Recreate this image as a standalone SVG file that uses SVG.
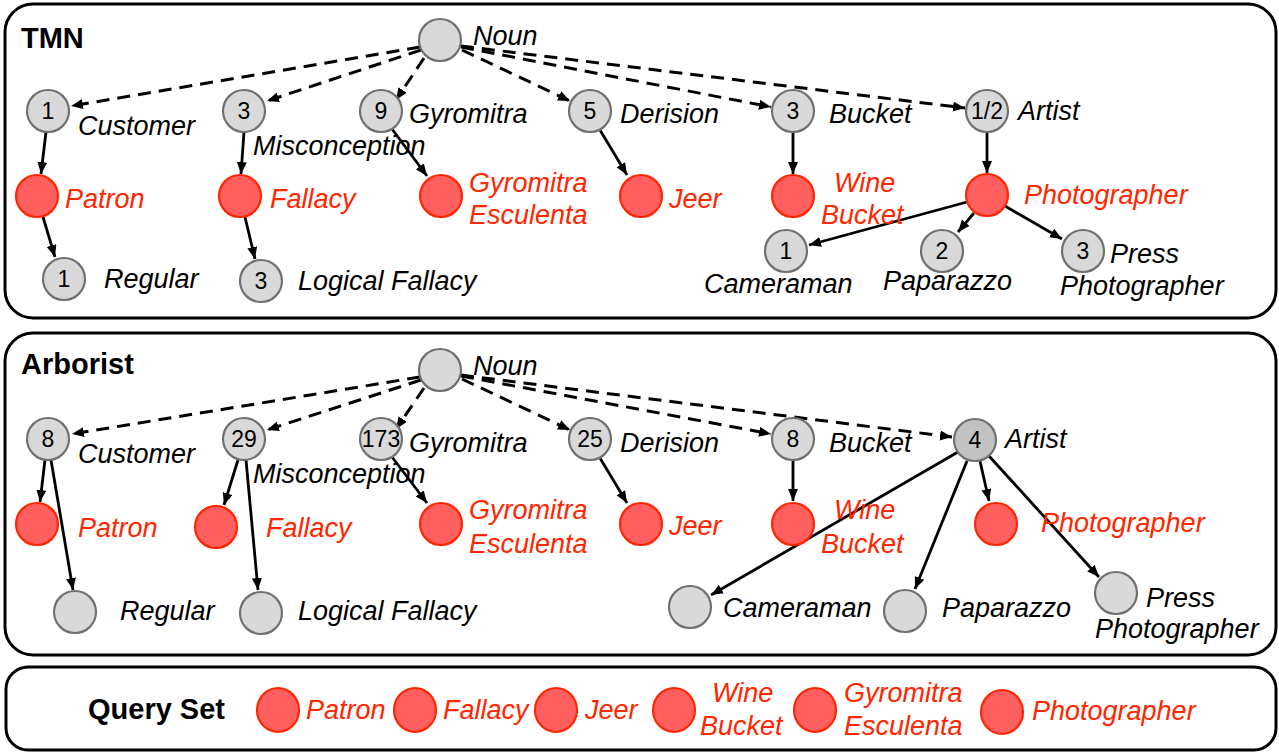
<svg xmlns="http://www.w3.org/2000/svg" width="1279" height="753" viewBox="0 0 1279 753">
<defs>
<marker id="ah" markerUnits="userSpaceOnUse" markerWidth="13" markerHeight="11" refX="12" refY="5" orient="auto">
<path d="M0,0 L12,5 L0,10 z" fill="#000"/>
</marker>
<style>
.box{fill:#fff;stroke:#000;stroke-width:3}
.g{fill:#d9d9d9;stroke:#707070;stroke-width:2.2}
.g4{fill:#c2c2c2;stroke:#707070;stroke-width:2.2}
.r{fill:#ff5f5f;stroke:#ff2600;stroke-width:2.2}
.num{font-family:"Liberation Sans",Arial,sans-serif;font-size:23px;fill:#000;text-anchor:middle}
.lb{font-family:"Liberation Sans",Arial,sans-serif;font-size:27px;font-style:italic;fill:#000}
.lr{font-family:"Liberation Sans",Arial,sans-serif;font-size:27px;font-style:italic;fill:#ff2600}
.tt{font-family:"Liberation Sans",Arial,sans-serif;font-size:29px;font-weight:bold;fill:#000}
.d{fill:none;stroke:#000;stroke-width:3;stroke-dasharray:13 8;marker-end:url(#ah)}
.s{fill:none;stroke:#000;stroke-width:2.8;marker-end:url(#ah)}
</style>
</defs>
<rect fill="#fff" x="0" y="0" width="1279" height="753"/>
<g id="panels">
<rect class="box" x="5" y="4" width="1271" height="314" rx="28"/>
<rect class="box" x="5" y="333" width="1271" height="322" rx="28"/>
<rect class="box" x="6" y="667" width="1270" height="83" rx="22"/>
<text class="tt" x="21" y="48">TMN</text>
<text class="tt" x="21" y="374">Arborist</text>
<text class="tt" x="88" y="719">Query Set</text>
</g>
<g id="connectors">
<line class="d" x1="420" y1="47" x2="71" y2="106"/>
<line class="d" x1="421" y1="50" x2="267" y2="101"/>
<line class="d" x1="424" y1="58" x2="396" y2="100"/>
<line class="d" x1="462" y1="50" x2="570" y2="101"/>
<line class="d" x1="461" y1="47" x2="771" y2="107"/>
<line class="d" x1="461" y1="46" x2="965" y2="108"/>
<line class="s" x1="46" y1="132" x2="41" y2="174"/>
<line class="s" x1="43" y1="217" x2="55" y2="257"/>
<line class="s" x1="244" y1="132" x2="241" y2="174"/>
<line class="s" x1="245" y1="217" x2="255" y2="259"/>
<line class="s" x1="392" y1="129" x2="427" y2="176"/>
<line class="s" x1="600" y1="130" x2="627" y2="175"/>
<line class="s" x1="793" y1="132" x2="793" y2="174"/>
<line class="s" x1="987" y1="132" x2="987" y2="173"/>
<line class="s" x1="967" y1="202" x2="809" y2="245"/>
<line class="s" x1="974" y1="213" x2="958" y2="232"/>
<line class="s" x1="1005" y1="206" x2="1062" y2="239"/>
<line class="d" x1="420" y1="377" x2="72" y2="434"/>
<line class="d" x1="421" y1="380" x2="267" y2="430"/>
<line class="d" x1="424" y1="388" x2="396" y2="429"/>
<line class="d" x1="462" y1="379" x2="570" y2="430"/>
<line class="d" x1="461" y1="376" x2="771" y2="434"/>
<line class="d" x1="461" y1="375" x2="952" y2="437"/>
<line class="s" x1="45" y1="460" x2="40" y2="502"/>
<line class="s" x1="51" y1="460" x2="73" y2="590"/>
<line class="s" x1="238" y1="460" x2="224" y2="505"/>
<line class="s" x1="246" y1="460" x2="258" y2="590"/>
<line class="s" x1="392" y1="457" x2="427" y2="503"/>
<line class="s" x1="600" y1="458" x2="627" y2="503"/>
<line class="s" x1="793" y1="460" x2="793" y2="501"/>
<line class="s" x1="958" y1="452" x2="711" y2="595"/>
<line class="s" x1="967" y1="461" x2="915" y2="589"/>
<line class="s" x1="980" y1="461" x2="989" y2="501"/>
<line class="s" x1="989" y1="456" x2="1099" y2="577"/>
</g>
<g id="t-noun"><circle class="g" cx="440" cy="40" r="21"/><text class="lb" x="473" y="45">Noun</text></g>
<g id="t-customer"><circle class="g" cx="48" cy="111" r="21"/><text class="num" x="48" y="119">1</text><text class="lb" x="78" y="135">Customer</text></g>
<g id="t-misconception"><circle class="g" cx="244" cy="111" r="21"/><text class="num" x="244" y="119">3</text><text class="lb" x="253" y="155">Misconception</text></g>
<g id="t-gyromitra"><circle class="g" cx="381" cy="111" r="21"/><text class="num" x="381" y="119">9</text><text class="lb" x="409" y="123">Gyromitra</text></g>
<g id="t-derision"><circle class="g" cx="590" cy="111" r="21"/><text class="num" x="590" y="119">5</text><text class="lb" x="620" y="123">Derision</text></g>
<g id="t-bucket"><circle class="g" cx="793" cy="111" r="21"/><text class="num" x="793" y="119">3</text><text class="lb" x="829" y="123">Bucket</text></g>
<g id="t-artist"><circle class="g" cx="987" cy="111" r="21"/><text class="num" x="987" y="119">1/2</text><text class="lb" x="1018" y="120">Artist</text></g>
<g id="t-patron"><circle class="r" cx="37" cy="196" r="21"/><text class="lr" x="65" y="208">Patron</text></g>
<g id="t-fallacy"><circle class="r" cx="240" cy="196" r="21"/><text class="lr" x="270" y="208">Fallacy</text></g>
<g id="t-gyroesc"><circle class="r" cx="441" cy="196" r="21"/><text class="lr" x="469" y="192">Gyromitra</text><text class="lr" x="469" y="224">Esculenta</text></g>
<g id="t-jeer"><circle class="r" cx="641" cy="196" r="21"/><text class="lr" x="669" y="208">Jeer</text></g>
<g id="t-winebucket"><circle class="r" cx="793" cy="196" r="21"/><text class="lr" x="834" y="192">Wine</text><text class="lr" x="821" y="224">Bucket</text></g>
<g id="t-photographer"><circle class="r" cx="987" cy="195" r="21"/><text class="lr" x="1024" y="204">Photographer</text></g>
<g id="t-regular"><circle class="g" cx="64" cy="279" r="21"/><text class="num" x="64" y="287">1</text><text class="lb" x="104" y="288">Regular</text></g>
<g id="t-logical"><circle class="g" cx="261" cy="281" r="21"/><text class="num" x="261" y="289">3</text><text class="lb" x="298" y="290">Logical Fallacy</text></g>
<g id="t-cameraman"><circle class="g" cx="786" cy="251" r="21"/><text class="num" x="786" y="259">1</text><text class="lb" x="704" y="293">Cameraman</text></g>
<g id="t-paparazzo"><circle class="g" cx="942" cy="251" r="21"/><text class="num" x="942" y="259">2</text><text class="lb" x="883" y="290">Paparazzo</text></g>
<g id="t-press"><circle class="g" cx="1083" cy="251" r="21"/><text class="num" x="1083" y="259">3</text><text class="lb" x="1110" y="263">Press</text><text class="lb" x="1060" y="295">Photographer</text></g>
<g id="a-noun"><circle class="g" cx="440" cy="370" r="21"/><text class="lb" x="473" y="375">Noun</text></g>
<g id="a-customer"><circle class="g" cx="48" cy="439" r="21"/><text class="num" x="48" y="447">8</text><text class="lb" x="78" y="463">Customer</text></g>
<g id="a-misconception"><circle class="g" cx="244" cy="439" r="21"/><text class="num" x="244" y="447">29</text><text class="lb" x="253" y="483">Misconception</text></g>
<g id="a-gyromitra"><circle class="g" cx="381" cy="439" r="21"/><text class="num" x="381" y="447">173</text><text class="lb" x="409" y="452">Gyromitra</text></g>
<g id="a-derision"><circle class="g" cx="590" cy="439" r="21"/><text class="num" x="590" y="447">25</text><text class="lb" x="620" y="452">Derision</text></g>
<g id="a-bucket"><circle class="g" cx="793" cy="439" r="21"/><text class="num" x="793" y="447">8</text><text class="lb" x="829" y="452">Bucket</text></g>
<g id="a-artist"><circle class="g4" cx="975" cy="440" r="21"/><text class="num" x="975" y="448">4</text><text class="lb" x="1005" y="448">Artist</text></g>
<g id="a-patron"><circle class="r" cx="37" cy="524" r="21"/><text class="lr" x="78" y="537">Patron</text></g>
<g id="a-fallacy"><circle class="r" cx="216" cy="527" r="21"/><text class="lr" x="266" y="537">Fallacy</text></g>
<g id="a-gyroesc"><circle class="r" cx="441" cy="524" r="21"/><text class="lr" x="469" y="519">Gyromitra</text><text class="lr" x="469" y="553">Esculenta</text></g>
<g id="a-jeer"><circle class="r" cx="641" cy="524" r="21"/><text class="lr" x="669" y="535">Jeer</text></g>
<g id="a-winebucket"><circle class="r" cx="793" cy="524" r="21"/><text class="lr" x="834" y="519">Wine</text><text class="lr" x="821" y="553">Bucket</text></g>
<g id="a-photographer"><circle class="r" cx="996" cy="524" r="21"/><text class="lr" x="1041" y="532">Photographer</text></g>
<g id="a-regular"><circle class="g" cx="75" cy="612" r="21"/><text class="lb" x="120" y="620">Regular</text></g>
<g id="a-logical"><circle class="g" cx="261" cy="613" r="21"/><text class="lb" x="298" y="620">Logical Fallacy</text></g>
<g id="a-cameraman"><circle class="g" cx="690" cy="607" r="21"/><text class="lb" x="723" y="617">Cameraman</text></g>
<g id="a-paparazzo"><circle class="g" cx="905" cy="611" r="21"/><text class="lb" x="942" y="617">Paparazzo</text></g>
<g id="a-press"><circle class="g" cx="1116" cy="593" r="21"/><text class="lb" x="1146" y="607">Press</text><text class="lb" x="1095" y="638">Photographer</text></g>
<g id="q-patron"><ellipse class="r" cx="278" cy="710" rx="21" ry="22"/><text class="lr" x="306" y="719">Patron</text></g>
<g id="q-fallacy"><ellipse class="r" cx="415" cy="710" rx="21" ry="22"/><text class="lr" x="443" y="719">Fallacy</text></g>
<g id="q-jeer"><ellipse class="r" cx="556" cy="710" rx="21" ry="22"/><text class="lr" x="585" y="719">Jeer</text></g>
<g id="q-winebucket"><ellipse class="r" cx="674" cy="710" rx="21" ry="22"/><text class="lr" x="712" y="702">Wine</text><text class="lr" x="700" y="735">Bucket</text></g>
<g id="q-gyroesc"><ellipse class="r" cx="815" cy="710" rx="21" ry="22"/><text class="lr" x="844" y="702">Gyromitra</text><text class="lr" x="844" y="735">Esculenta</text></g>
<g id="q-photographer"><ellipse class="r" cx="1002" cy="712" rx="21" ry="22"/><text class="lr" x="1032" y="720">Photographer</text></g>
</svg>
